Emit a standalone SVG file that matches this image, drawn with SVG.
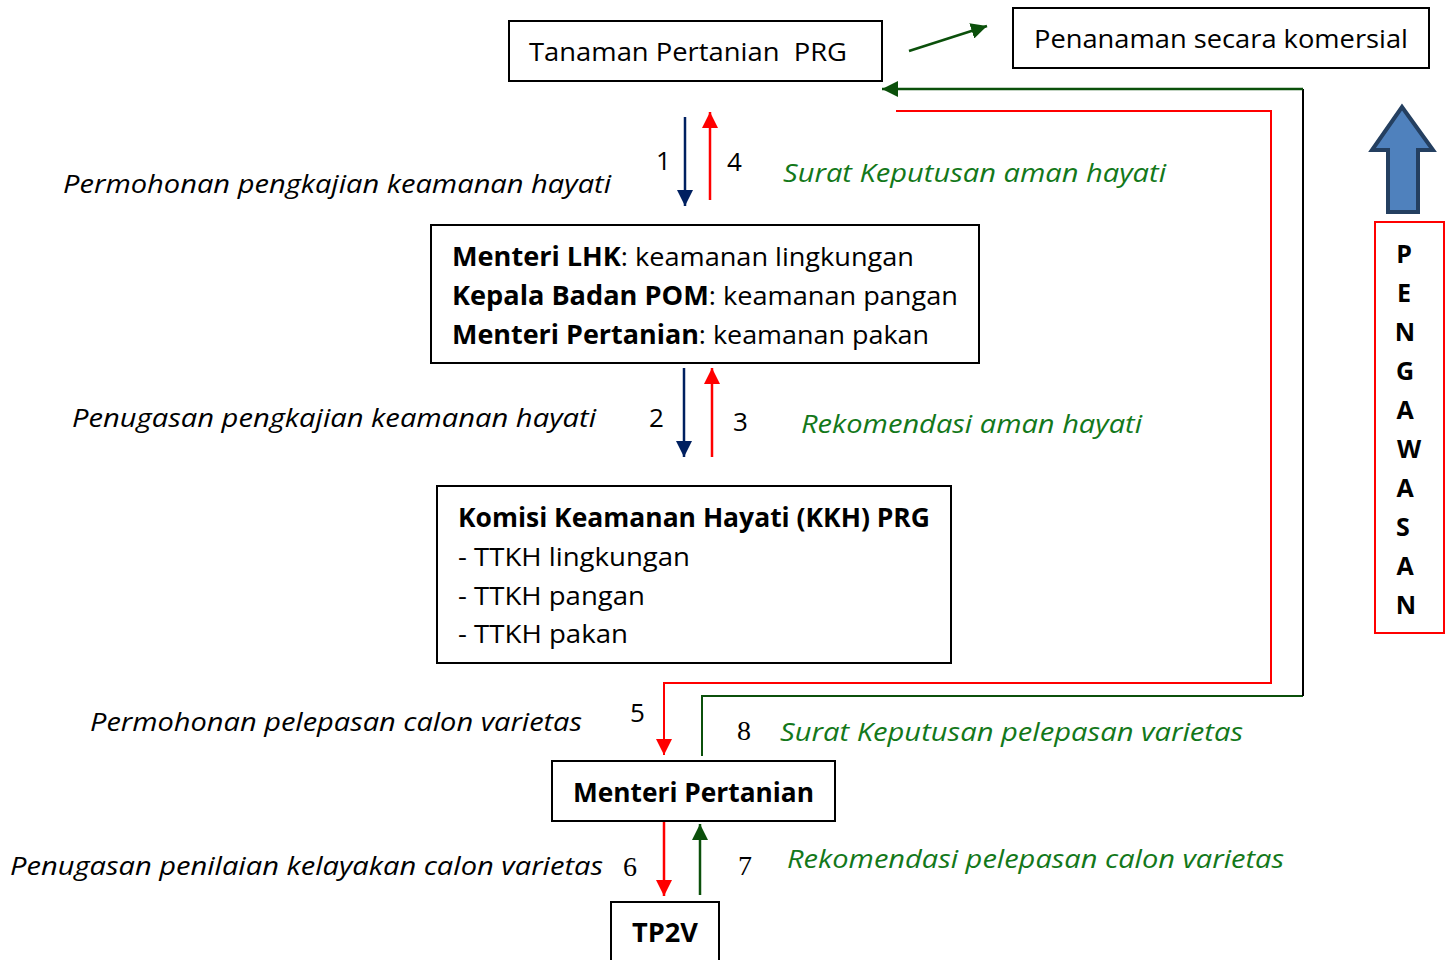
<svg xmlns="http://www.w3.org/2000/svg" width="1450" height="960" viewBox="0 0 1450 960">
<style>
.t{font-family:"Open Sans","Noto Sans",sans-serif;font-size:26px;fill:#000}
.b{font-weight:bold}
.i{font-style:italic}
.g{fill:#13781a}
.n{font-family:"Open Sans",sans-serif;font-size:26px;fill:#000}
.s{font-family:"Liberation Serif",serif;font-size:28px;fill:#000}
.box{fill:#fff;stroke:#000;stroke-width:2}
.pg{font-family:"Open Sans",sans-serif;font-size:25px;font-weight:bold;fill:#000}
</style>
<defs>
<marker id="aN" viewBox="0 0 10 10" refX="9" refY="5" markerWidth="5" markerHeight="5" orient="auto" markerUnits="userSpaceOnUse" style="overflow:visible"><path d="M0,0 L10,5 L0,10 z" fill="#002060" transform="scale(1.5) translate(-3,-5) translate(3,5)"/></marker>
<marker id="aR" viewBox="0 0 10 10" refX="10" refY="5" markerWidth="16" markerHeight="16" orient="auto" markerUnits="userSpaceOnUse"><path d="M0,0 L10,5 L0,10 z" fill="#ff0000"/></marker>
<marker id="aB" viewBox="0 0 10 10" refX="10" refY="5" markerWidth="16" markerHeight="16" orient="auto" markerUnits="userSpaceOnUse"><path d="M0,0 L10,5 L0,10 z" fill="#002060"/></marker>
<marker id="aG" viewBox="0 0 10 10" refX="10" refY="5" markerWidth="16" markerHeight="16" orient="auto" markerUnits="userSpaceOnUse"><path d="M0,0 L10,5 L0,10 z" fill="#0b500b"/></marker>
</defs>

<g id="connectors" fill="none" stroke-width="2.5">
<line x1="909" y1="51" x2="987" y2="26" stroke="#0b500b" marker-end="url(#aG)"/>
<line x1="685" y1="117" x2="685" y2="206" stroke="#002060" marker-end="url(#aB)"/>
<line x1="710" y1="200" x2="710" y2="112" stroke="#ff0000" marker-end="url(#aR)"/>
<line x1="684" y1="368" x2="684" y2="457" stroke="#002060" marker-end="url(#aB)"/>
<line x1="712" y1="457" x2="712" y2="368" stroke="#ff0000" marker-end="url(#aR)"/>
<polyline points="896,111 1271,111 1271,683 664,683 664,755" stroke="#ff0000" stroke-width="2" marker-end="url(#aR)"/>
<polyline points="702,756 702,696 1303,696" stroke="#0b500b" stroke-width="2"/>
<line x1="1303" y1="696" x2="1303" y2="89" stroke="#000" stroke-width="2"/>
<line x1="1303" y1="89" x2="882" y2="89" stroke="#0b500b" stroke-width="2.5" marker-end="url(#aG)"/>
<line x1="664" y1="821" x2="664" y2="896" stroke="#ff0000" marker-end="url(#aR)"/>
<line x1="700" y1="895" x2="700" y2="824" stroke="#0b500b" marker-end="url(#aG)"/>
</g>

<g id="tanaman">
<rect class="box" x="509" y="21" width="373" height="60"/>
<text class="t" x="529" y="61" textLength="318" lengthAdjust="spacingAndGlyphs" xml:space="preserve">Tanaman Pertanian  PRG</text>
</g>

<g id="penanaman">
<rect class="box" x="1013" y="8" width="416" height="60"/>
<text class="t" x="1034" y="48" textLength="374" lengthAdjust="spacingAndGlyphs">Penanaman secara komersial</text>
</g>

<g id="menteri-lhk">
<rect class="box" x="431" y="225" width="548" height="138"/>
<text class="t" x="452" y="266" textLength="462" lengthAdjust="spacingAndGlyphs"><tspan class="b">Menteri LHK</tspan>: keamanan lingkungan</text>
<text class="t" x="452" y="305" textLength="506" lengthAdjust="spacingAndGlyphs"><tspan class="b">Kepala Badan POM</tspan>: keamanan pangan</text>
<text class="t" x="452" y="344" textLength="477" lengthAdjust="spacingAndGlyphs"><tspan class="b">Menteri Pertanian</tspan>: keamanan pakan</text>
</g>

<g id="kkh">
<rect class="box" x="437" y="486" width="514" height="177"/>
<text class="t b" x="458" y="527" textLength="472" lengthAdjust="spacingAndGlyphs">Komisi Keamanan Hayati (KKH) PRG</text>
<text class="t" x="458" y="566" textLength="232" lengthAdjust="spacingAndGlyphs">- TTKH lingkungan</text>
<text class="t" x="458" y="605" textLength="187" lengthAdjust="spacingAndGlyphs">- TTKH pangan</text>
<text class="t" x="458" y="643" textLength="170" lengthAdjust="spacingAndGlyphs">- TTKH pakan</text>
</g>

<g id="menteri-pertanian">
<rect class="box" x="552" y="761" width="283" height="60"/>
<text class="t b" x="573" y="802" textLength="241" lengthAdjust="spacingAndGlyphs">Menteri Pertanian</text>
</g>

<g id="tp2v">
<rect class="box" x="611" y="902" width="108" height="70"/>
<text class="t b" x="632" y="942" textLength="66" lengthAdjust="spacingAndGlyphs">TP2V</text>
</g>

<g id="pengawasan">
<path d="M1388,212 L1388,150 L1372,150 L1402,107 L1433,150 L1418,150 L1418,212 Z" fill="#4f81bd" stroke="#243f60" stroke-width="4" stroke-linejoin="miter"/>
<rect x="1375" y="222" width="69" height="411" fill="#fff" stroke="#ff0000" stroke-width="2"/>
<g text-anchor="middle">
<text class="pg" x="1404" y="263">P</text>
<text class="pg" x="1404" y="302">E</text>
<text class="pg" x="1405" y="341">N</text>
<text class="pg" x="1405" y="380">G</text>
<text class="pg" x="1405" y="419">A</text>
<text class="pg" x="1409" y="458">W</text>
<text class="pg" x="1405" y="497">A</text>
<text class="pg" x="1403" y="536">S</text>
<text class="pg" x="1405" y="575">A</text>
<text class="pg" x="1406" y="614">N</text>
</g>
</g>

<g id="labels">
<text class="t i" x="63" y="193" textLength="548" lengthAdjust="spacingAndGlyphs">Permohonan pengkajian keamanan hayati</text>
<text class="t i g" x="783" y="182" textLength="383" lengthAdjust="spacingAndGlyphs">Surat Keputusan aman hayati</text>
<text class="t i" x="72" y="427" textLength="524" lengthAdjust="spacingAndGlyphs">Penugasan pengkajian keamanan hayati</text>
<text class="t i g" x="801" y="433" textLength="341" lengthAdjust="spacingAndGlyphs">Rekomendasi aman hayati</text>
<text class="t i" x="90" y="731" textLength="492" lengthAdjust="spacingAndGlyphs">Permohonan pelepasan calon varietas</text>
<text class="t i g" x="780" y="741" textLength="463" lengthAdjust="spacingAndGlyphs">Surat Keputusan pelepasan varietas</text>
<text class="t i" x="10" y="875" textLength="593" lengthAdjust="spacingAndGlyphs">Penugasan penilaian kelayakan calon varietas</text>
<text class="t i g" x="787" y="868" textLength="497" lengthAdjust="spacingAndGlyphs">Rekomendasi pelepasan calon varietas</text>
<text class="n" x="656" y="170">1</text>
<text class="n" x="727" y="171">4</text>
<text class="n" x="649" y="427">2</text>
<text class="n" x="733" y="431">3</text>
<text class="n" x="630" y="722">5</text>
<text class="s" x="737" y="740">8</text>
<text class="s" x="623" y="876">6</text>
<text class="s" x="738" y="875">7</text>
</g>
</svg>
